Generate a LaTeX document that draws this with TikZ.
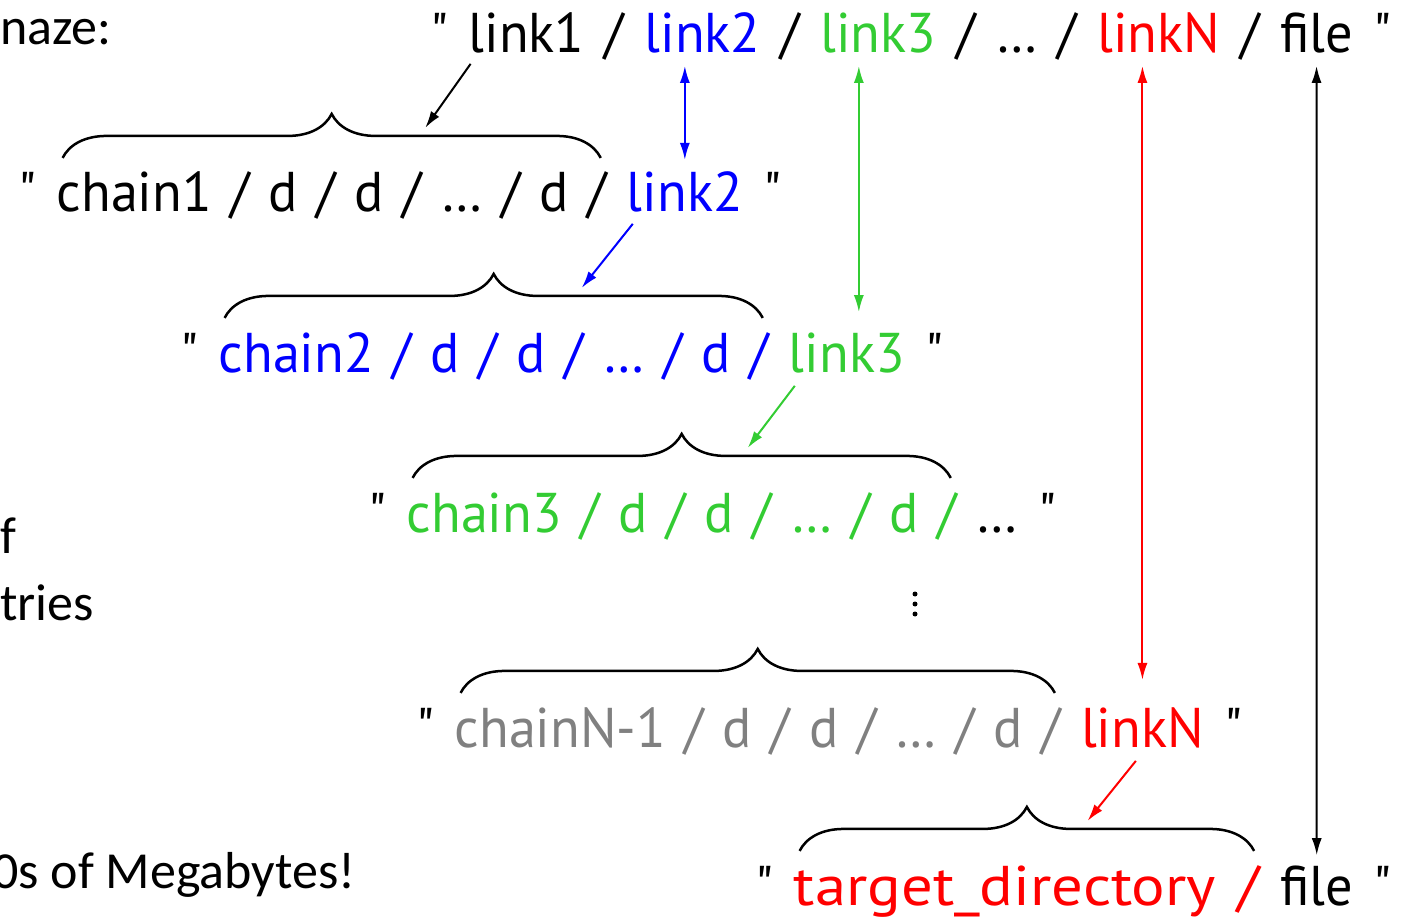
\documentclass[tikz,border=0pt]{standalone}
\usepackage{fontspec}
\newfontfamily\comicfont[FakeStretch=0.97,WordSpace=1.3]{PT Sans}
\newfontfamily\widefont[FakeStretch=1.12,WordSpace=1.3]{PT Sans}
\newfontfamily\slidefont{Carlito}
\usetikzlibrary{positioning, calc, decorations.pathreplacing, arrows.meta}

\definecolor{linkBlue}{HTML}{0000FF}
\definecolor{linkGreen}{HTML}{33CC33}
\definecolor{linkRed}{HTML}{FF0000}
\definecolor{chainGray}{HTML}{808080}

\def\wgap{20pt}

\tikzset{
  word/.style={inner sep=0pt, font=\comicfont\fontsize{56}{60}\selectfont},
  wideword/.style={word, font=\widefont\fontsize{56}{60}\selectfont},
  note/.style={inner sep=0pt, anchor=base west, font=\slidefont\fontsize{52}{56}\selectfont},
  pathbrace/.style={decorate, decoration={brace, amplitude=44pt}, line width=2.5pt},
  linkarrow/.style={-{Latex[length=17pt,width=10pt]}, line width=2pt},
  samearrow/.style={{Latex[length=17pt,width=10pt]}-{Latex[length=17pt,width=10pt]}, line width=2pt}
}

\begin{document}
\begin{tikzpicture}[x=1pt, y=-1pt]
    \useasboundingbox (0,0) rectangle (1411,920);

    % Notes cut at the left edge
    \node[note] (n1) at (0,45) {naze:};
    \node[note] (n2) at (0,553) {f};
    \node[note] (n3) at (0,620) {tries};
    \node[note] (n4) at (-8,888) {0s of Megabytes!};

    % Full path
    \node[word, anchor=base west] (q0) at (430,53) {"};
    \node[word, base right=\wgap of q0] (t1) {link1};
    \node[word, base right=\wgap of t1] (s1) {/};
    \node[word, base right=\wgap of s1, text=linkBlue] (t2) {link2};
    \node[word, base right=\wgap of t2] (s2) {/};
    \node[word, base right=\wgap of s2, text=linkGreen] (t3) {link3};
    \node[word, base right=\wgap of t3] (s3) {/};
    \node[word, base right=\wgap of s3] (tdots) {…};
    \node[word, base right=\wgap of tdots] (s4) {/};
    \node[word, base right=\wgap of s4, text=linkRed] (tN) {linkN};
    \node[word, base right=\wgap of tN] (s5) {/};
    \node[word, base right=\wgap of s5] (tf) {file};
    \node[word, base right=\wgap of tf] (e0) {"};

    % Link 1
    \node[word, anchor=base west] (q1) at (18,212) {"};
    \node[word, base right=\wgap of q1] (c1) {chain1 / d / d / … / d /};
    \node[word, base right=\wgap of c1, text=linkBlue] (l1) {link2};
    \node[word, base right=\wgap of l1] (e1) {"};

    % Link 2
    \node[word, anchor=base west] (q2) at (180,372) {"};
    \node[word, base right=\wgap of q2, text=linkBlue] (c2) {chain2 / d / d / … / d /};
    \node[word, base right=\wgap of c2, text=linkGreen] (l2) {link3};
    \node[word, base right=\wgap of l2] (e2) {"};

    % Link 3
    \node[word, anchor=base west] (q3) at (368,532) {"};
    \node[word, base right=\wgap of q3, text=linkGreen] (c3) {chain3 / d / d / … / d /};
    \node[word, base right=\wgap of c3] (l3) {…};
    \node[word, base right=\wgap of l3] (e3) {"};

    % Vertical dots
    \foreach \y in {594,604,614}
        \fill (915,\y) circle (2.5pt);

    % Link N-1
    \node[word, anchor=base west] (q4) at (416,747) {"};
    \node[word, base right=\wgap of q4, text=chainGray] (c4) {chainN-1 / d / d / … / d /};
    \node[word, base right=\wgap of c4, text=linkRed] (l4) {linkN};
    \node[word, base right=\wgap of l4] (e4) {"};

    % Target
    \node[word, anchor=base west] (q5) at (755,905) {"};
    \node[wideword, base right=\wgap of q5, text=linkRed] (c5) {target\_directory /};
    \node[word, base right=\wgap of c5] (f5) {file};
    \node[word, base right=\wgap of f5] (e5) {"};

    % Braces over the chains
    \foreach \c in {c1,c2,c3,c4,c5}
        \draw[pathbrace] ([xshift=6pt,yshift=14pt]\c.north west) -- ([xshift=-6pt,yshift=14pt]\c.north east);

    % Where each link lands on its brace
    \coordinate (h1) at ($(c1.north west)!0.67!(c1.north east)+(0,-44)$);
    \coordinate (h2) at ($(c2.north west)!0.66!(c2.north east)+(0,-44)$);
    \coordinate (h3) at ($(c3.north west)!0.62!(c3.north east)+(0,-44)$);
    \coordinate (h5) at ($(c5.north west)!0.63!(c5.north east)+(0,-44)$);

    % Link expands into chain
    \draw[linkarrow] ([xshift=2pt,yshift=-10pt]t1.south west) -- (h1);
    \draw[linkarrow, draw=linkBlue, fill=linkBlue] ([xshift=6pt,yshift=-11pt]l1.south west) -- (h2);
    \draw[linkarrow, draw=linkGreen, fill=linkGreen] ([xshift=6pt,yshift=-13pt]l2.south west) -- (h3);
    \draw[linkarrow, draw=linkRed, fill=linkRed] ([xshift=55pt,yshift=-13pt]l4.south west) -- (h5);

    % Same component in both strings
    \draw[samearrow, draw=linkBlue, fill=linkBlue] ([yshift=-12pt]l1.north |- t2.south) -- ([yshift=12pt]l1.north);
    \draw[samearrow, draw=linkGreen, fill=linkGreen] ([xshift=12pt,yshift=-12pt]l2.north |- t3.south) -- ([xshift=12pt,yshift=20pt]l2.north);
    \draw[samearrow, draw=linkRed, fill=linkRed] ([yshift=-12pt]l4.north |- tN.south) -- ([yshift=27pt]l4.north);
    \draw[samearrow] ([yshift=-12pt]tf.south) -- ([yshift=10pt]f5.north);

\end{tikzpicture}
\end{document}
